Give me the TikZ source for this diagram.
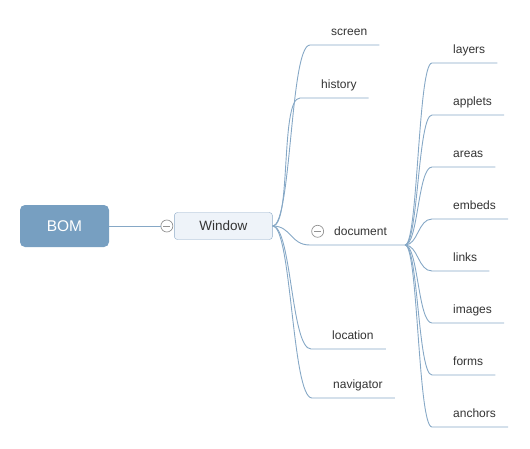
\documentclass[tikz,border=0pt]{standalone}
\usepackage{fontspec}
\setmainfont{Liberation Sans}
\usetikzlibrary{positioning}
\definecolor{bomblue}{HTML}{779FC1}
\definecolor{linkblue}{HTML}{86A8C6}
\definecolor{boxedge}{HTML}{8EABC8}
\definecolor{boxfill}{HTML}{EEF3F9}
\definecolor{inkgray}{HTML}{333333}

\begin{document}
\begin{tikzpicture}[x=1pt, y=-1pt,
    root/.style={rectangle, rounded corners=5pt, fill=bomblue, text=white,
                 minimum width=89pt, minimum height=42pt,
                 font=\fontsize{15.5}{18}\selectfont},
    topic/.style={rectangle, rounded corners=3pt, draw=boxedge, fill=boxfill,
                  minimum width=98pt, minimum height=27pt, text=inkgray,
                  font=\fontsize{13.5}{16}\selectfont},
    leaf/.style={anchor=south west, inner xsep=0pt, inner ysep=6pt,
                 text height=9pt, text depth=3pt, text=inkgray,
                 font=\fontsize{12}{14}\selectfont},
    toggle/.style={circle, draw=gray!85, fill=white, minimum size=12pt,
                   inner sep=0pt, line width=0.7pt,
                   path picture={\draw[gray!85, line width=0.7pt]
                     ([xshift=-3.5pt]path picture bounding box.center) --
                     ([xshift=3.5pt]path picture bounding box.center);}},
    link/.style={draw=linkblue, line width=0.9pt},
]
    \useasboundingbox (0,0) rectangle (530,448);

    % --- Root and main topic ---
    \node[root]   (bom)     at (64.5,226)          {BOM};
    \node[topic]  (window)  [right=65pt of bom]    {Window};
    \node[toggle] (wtoggle) [left=1pt of window]   {};

    \draw[link] (bom) -- (wtoggle);

    % --- Children of Window ---
    \node[leaf] (screen)    at (331,45)  {screen};
    \node[leaf] (history)   at (321,98)  {history};
    \node[leaf] (document)  at (334,245) {document};
    \node[leaf] (location)  at (332,349) {location};
    \node[leaf] (navigator) at (333,398) {navigator};
    \node[toggle] (dtoggle) [left=10pt of document, yshift=1.5pt] {};

    \foreach \sub in {screen, history, location, navigator}
        \draw[link] (window.east) .. controls +(19,0) and +(-20,0)
            .. ([xshift=-21pt]\sub.south west) -- ([xshift=12pt]\sub.south east);

    \coordinate (dochub) at ([xshift=18pt]document.south east);
    \draw[link] (window.east) .. controls +(19,0) and +(-20,0)
        .. ([xshift=-24pt]document.south west) -- (dochub);

    % --- Children of document ---
    \foreach \sub [count=\i] in {layers, applets, areas, embeds, links, images, forms, anchors} {
        \node[leaf] (\sub) at (453, 11+52*\i) {\sub};
        \draw[link] (dochub) .. controls +(13,0) and +(-14,0)
            .. ([xshift=-21pt]\sub.south west) -- ([xshift=12pt]\sub.south east);
    }
\end{tikzpicture}
\end{document}
